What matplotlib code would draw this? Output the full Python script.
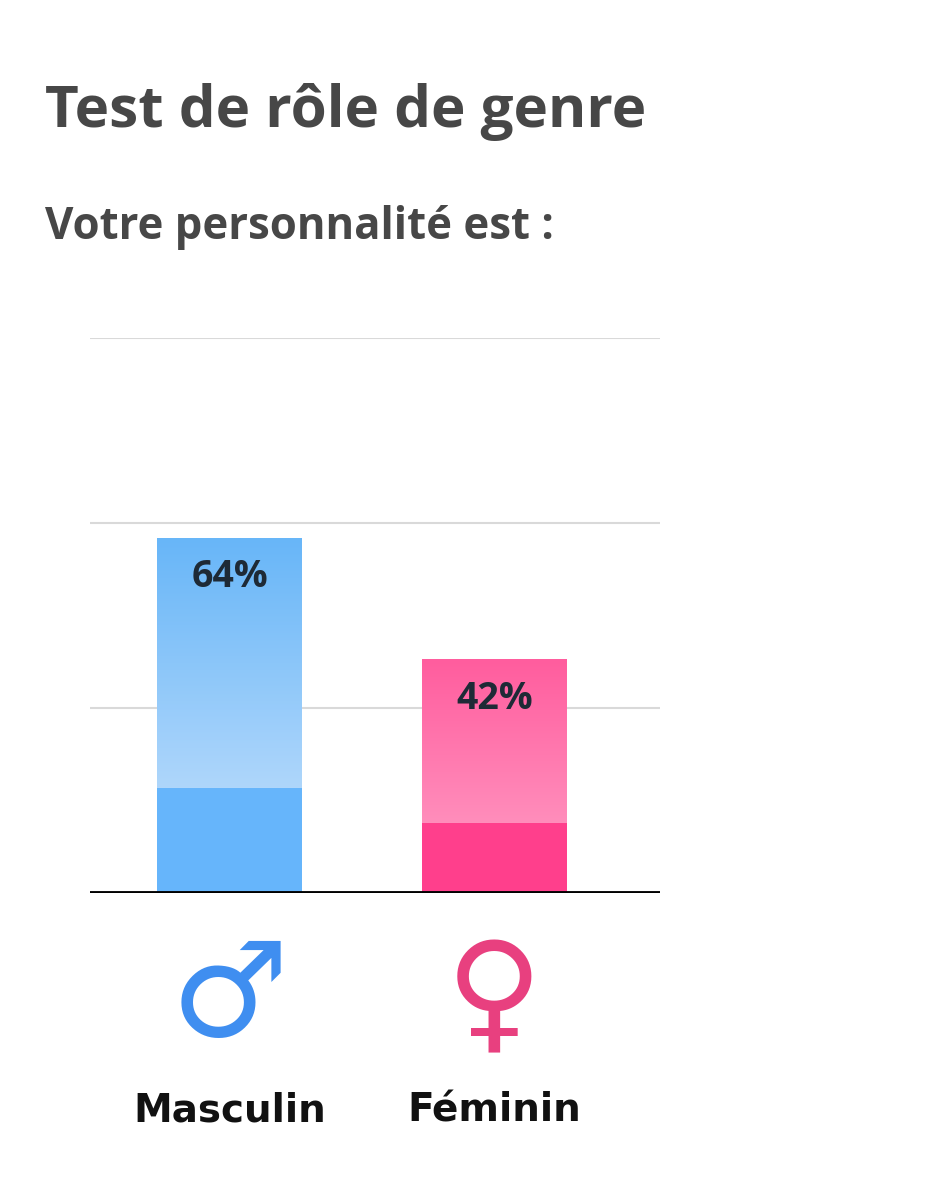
import matplotlib
matplotlib.use("Agg")
import matplotlib.pyplot as plt
import numpy as np
from matplotlib.colors import LinearSegmentedColormap

categories = ["Masculin", "Féminin"]
values = [64, 42]
base_values = [19, 12.6]
symbols = ["♂", "♀"]
top_colors = ["#68b6f8", "#ff5d9e"]
low_colors = ["#aed6fb", "#ff8dbb"]
solid_colors = ["#66b5fb", "#ff3f8c"]
sym_colors = ["#3f8ef0", "#e8407f"]

fig = plt.figure(figsize=(9.26, 12), dpi=100)
fig.text(45/926, 1-112/1200, "Test de rôle de genre", fontsize=42, fontweight="bold",
         color="#474747", va="center", family="Open Sans")
fig.text(45/926, 1-227/1200, "Votre personnalité est :", fontsize=31.5, fontweight="bold",
         color="#474747", va="center", family="Open Sans")

ax = fig.add_axes([90/926, 1-893/1200, 570/926, (893-338)/1200])
a = -139.5/265
for g in [100/3, 200/3, 100]:
    ax.axhline(g, color="#d9d9d9", lw=1.5, zorder=0)
w = 145/265
x = np.arange(len(categories))
for i, (v, b) in enumerate(zip(values, base_values)):
    cmap = LinearSegmentedColormap.from_list("g", [low_colors[i], top_colors[i]])
    grad = np.linspace(0, 1, 100).reshape(-1, 1)
    ax.imshow(grad, cmap=cmap, origin="lower", aspect="auto",
              extent=[x[i]-w/2, x[i]+w/2, b, v], zorder=2)
    ax.bar(x[i], b, width=w, color=solid_colors[i], zorder=3)
    ax.text(x[i], v - 7, f"{v}%", ha="center", va="center", fontsize=27,
            fontweight="bold", color="#1e2a36", family="Open Sans", zorder=4)
    cx = (90 + (x[i]-a)*265)/926
    fig.text(cx, 1-1000/1200, symbols[i], ha="center", va="center",
             fontsize=95, fontweight="bold", color=sym_colors[i], family="DejaVu Sans")
    fig.text(cx, 1-1110/1200, categories[i], ha="center", va="center",
             fontsize=28, fontweight="bold", color="#111111", family="DejaVu Sans")
ax.set_xlim(a, a + 570/265)
ax.set_ylim(0, 100)
ax.axhline(0, color="black", lw=3.5, zorder=5)
for s in ax.spines.values():
    s.set_visible(False)
ax.set_xticks([]); ax.set_yticks([])
fig.savefig("out.png", dpi=100)
